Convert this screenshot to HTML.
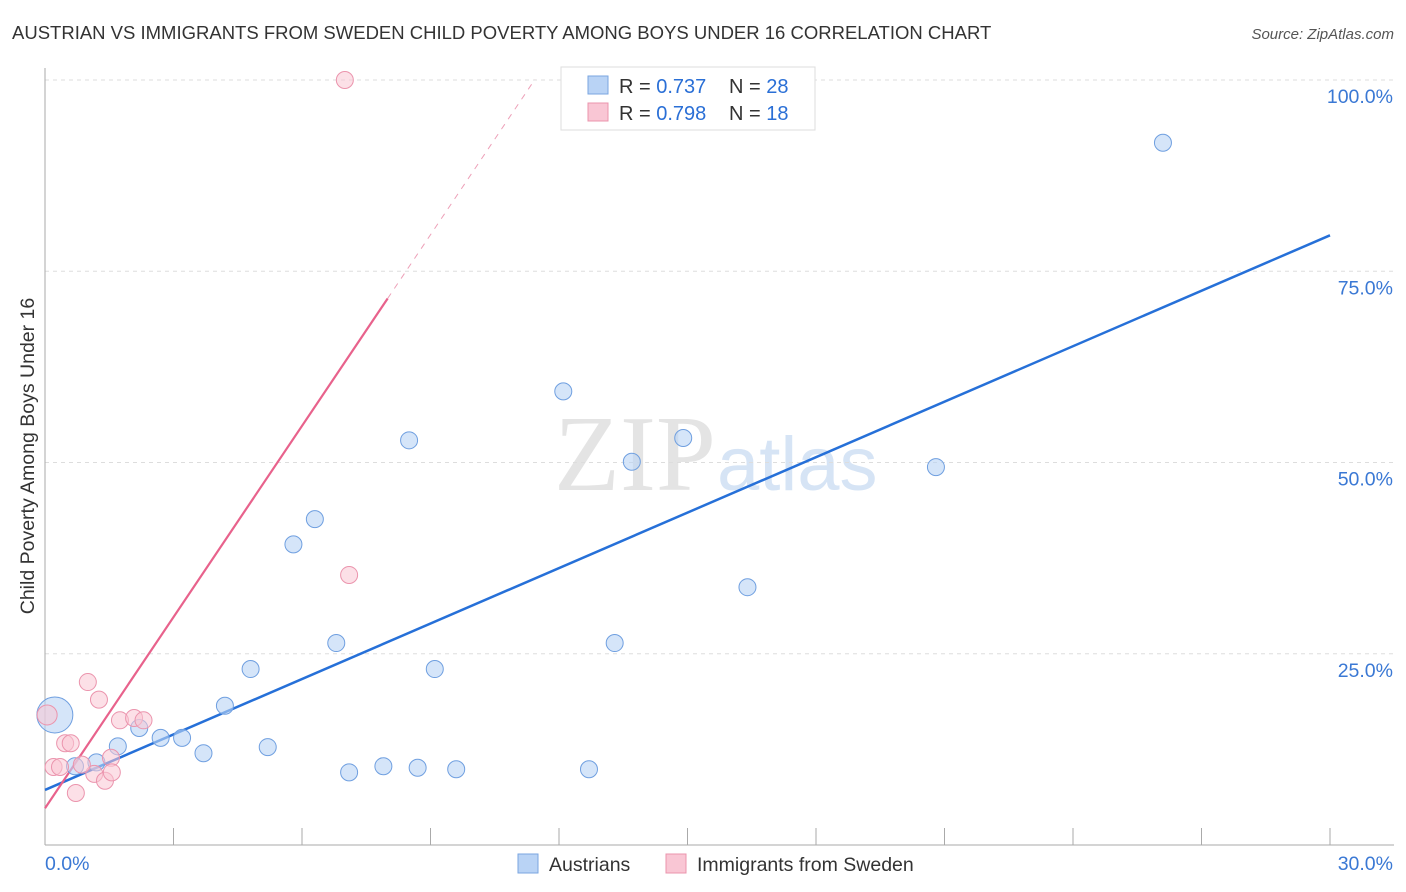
<!DOCTYPE html>
<html><head><meta charset="utf-8"><style>
body{margin:0;background:#fff;font-family:"Liberation Sans",sans-serif;}
svg{display:block}
</style></head><body>
<svg id="chart" width="1406" height="892">
<text x="12" y="39" font-size="18.5" fill="#333">AUSTRIAN VS IMMIGRANTS FROM SWEDEN CHILD POVERTY AMONG BOYS UNDER 16 CORRELATION CHART</text>
<text x="1394" y="39" font-size="15" fill="#555" font-style="italic" text-anchor="end">Source: ZipAtlas.com</text>
<text x="716" y="490" font-size="108" fill="#e4e4e4" text-anchor="end" font-family="Liberation Serif">ZIP</text>
<text x="717" y="490" font-size="76" fill="#d6e4f5">atlas</text>
<g id="grid"></g><g id="axes"></g><g id="lines"></g><g id="pts"></g>
<text transform="translate(34,456) rotate(-90)" font-size="19.5" fill="#333" text-anchor="middle">Child Poverty Among Boys Under 16</text>
<g>
<rect x="561" y="67" width="254" height="63" fill="#fff" stroke="#ddd"/>
<rect x="588" y="76" width="20" height="18" fill="#b9d3f5" stroke="#7aa6e0"/>
<rect x="588" y="103" width="20" height="18" fill="#f9c6d4" stroke="#eb94ad"/>
<text x="619" y="93" font-size="20" fill="#333">R = <tspan fill="#2a6fd6">0.737</tspan><tspan x="729">N = </tspan><tspan fill="#2a6fd6">28</tspan></text>
<text x="619" y="120" font-size="20" fill="#333">R = <tspan fill="#2a6fd6">0.798</tspan><tspan x="729">N = </tspan><tspan fill="#2a6fd6"> 18</tspan></text>
</g>
<g>
<rect x="518" y="854" width="20" height="19" fill="#b9d3f5" stroke="#7aa6e0"/>
<text x="549" y="871" font-size="19.5" fill="#333">Austrians</text>
<rect x="666" y="854" width="20" height="19" fill="#f9c6d4" stroke="#eb94ad"/>
<text x="697" y="871" font-size="19.5" fill="#333">Immigrants from Sweden</text>
</g>
</svg>
<script>
const blueX=[0.23,0.7,1.2,1.7,2.2,2.7,3.2,3.7,4.2,4.8,5.2,5.8,6.3,6.8,7.1,7.9,8.5,8.7,9.1,9.6,12.1,12.7,13.3,13.7,14.9,16.4,20.8,26.1];
const blueY=[17.0,10.3,10.8,12.9,15.3,14.0,14.0,12.0,18.2,23.0,12.8,39.3,42.6,26.4,9.5,10.3,52.9,10.1,23.0,9.9,59.3,9.9,26.4,50.1,53.2,33.7,49.4,91.8];
const pinkX=[7.0,7.1,0.05,0.2,0.35,0.47,0.6,0.72,1.0,1.15,1.26,1.4,1.54,1.56,1.75,2.08,2.3,0.86];
const pinkY=[100,35.3,17,10.2,10.2,13.3,13.3,6.8,21.3,9.3,19.0,8.4,11.4,9.5,16.3,16.6,16.3,10.5];
const blueLine=[7.2,79.7];
const pinkLine=[4.8,100.1];
const yTicks=[25,50,75,100];
const xTickLabels=["0.0%","30.0%"];
const X=v=>45+v*1285/30, Y=v=>845-v*7.65;
const ns="http://www.w3.org/2000/svg";
function mk(p,t,a){const e=document.createElementNS(ns,t);for(const k in a)e.setAttribute(k,a[k]);document.getElementById(p).appendChild(e);return e;}
yTicks.forEach(t=>{
 const l=mk("grid","line",{x1:45,x2:1394,y1:Y(t),y2:Y(t),stroke:"#ddd","stroke-dasharray":"4,4"});
 
 
 const tx=mk("grid","text",{x:1393,y:Y(t)+23,"font-size":19.5,fill:"#3a78d4","text-anchor":"end"});tx.textContent=t.toFixed(1)+"%";
 
 
});
mk("axes","line",{x1:45,x2:45,y1:68,y2:845,stroke:"#aaa"});
mk("axes","line",{x1:45,x2:1394,y1:845,y2:845,stroke:"#aaa"});
for(let i=1;i<=10;i++){mk("axes","line",{x1:X(i*3),x2:X(i*3),y1:828,y2:845,stroke:"#aaa"});}
[[0,"start",45],[30,"end",1393]].forEach((d,i)=>{const t=mk("axes","text",{x:d[2],y:870,"font-size":19.5,fill:"#3a78d4","text-anchor":d[1]});t.textContent=xTickLabels[i];
 
 });
const bl=mk("lines","line",{x1:X(0),y1:Y(blueLine[0]),x2:X(30),y2:Y(blueLine[1]),stroke:"#2670d8","stroke-width":2.5});


const ps=(pinkLine[1]-pinkLine[0])/11.44;
const pl=mk("lines","line",{x1:X(0),y1:Y(pinkLine[0]),x2:X(8),y2:Y(pinkLine[0]+ps*8),stroke:"#e8628c","stroke-width":2.2});


const pd=mk("lines","line",{x1:X(8),y1:Y(pinkLine[0]+ps*8),x2:X(11.44),y2:Y(pinkLine[1]),stroke:"#eda0b8","stroke-width":1,"stroke-dasharray":"6,6"});


blueX.forEach((x,i)=>{const c=mk("pts","circle",{cx:X(x),cy:Y(blueY[i]),r:i==0?18:8.5,fill:"rgba(185,211,245,0.6)",stroke:"#6f9fe0","stroke-width":1});
 
 });
pinkX.forEach((x,i)=>{const c=mk("pts","circle",{cx:X(x),cy:Y(pinkY[i]),r:i==2?10:8.5,fill:"rgba(249,198,212,0.55)",stroke:"#eb94ad","stroke-width":1});
 
 });
</script>
</body></html>
